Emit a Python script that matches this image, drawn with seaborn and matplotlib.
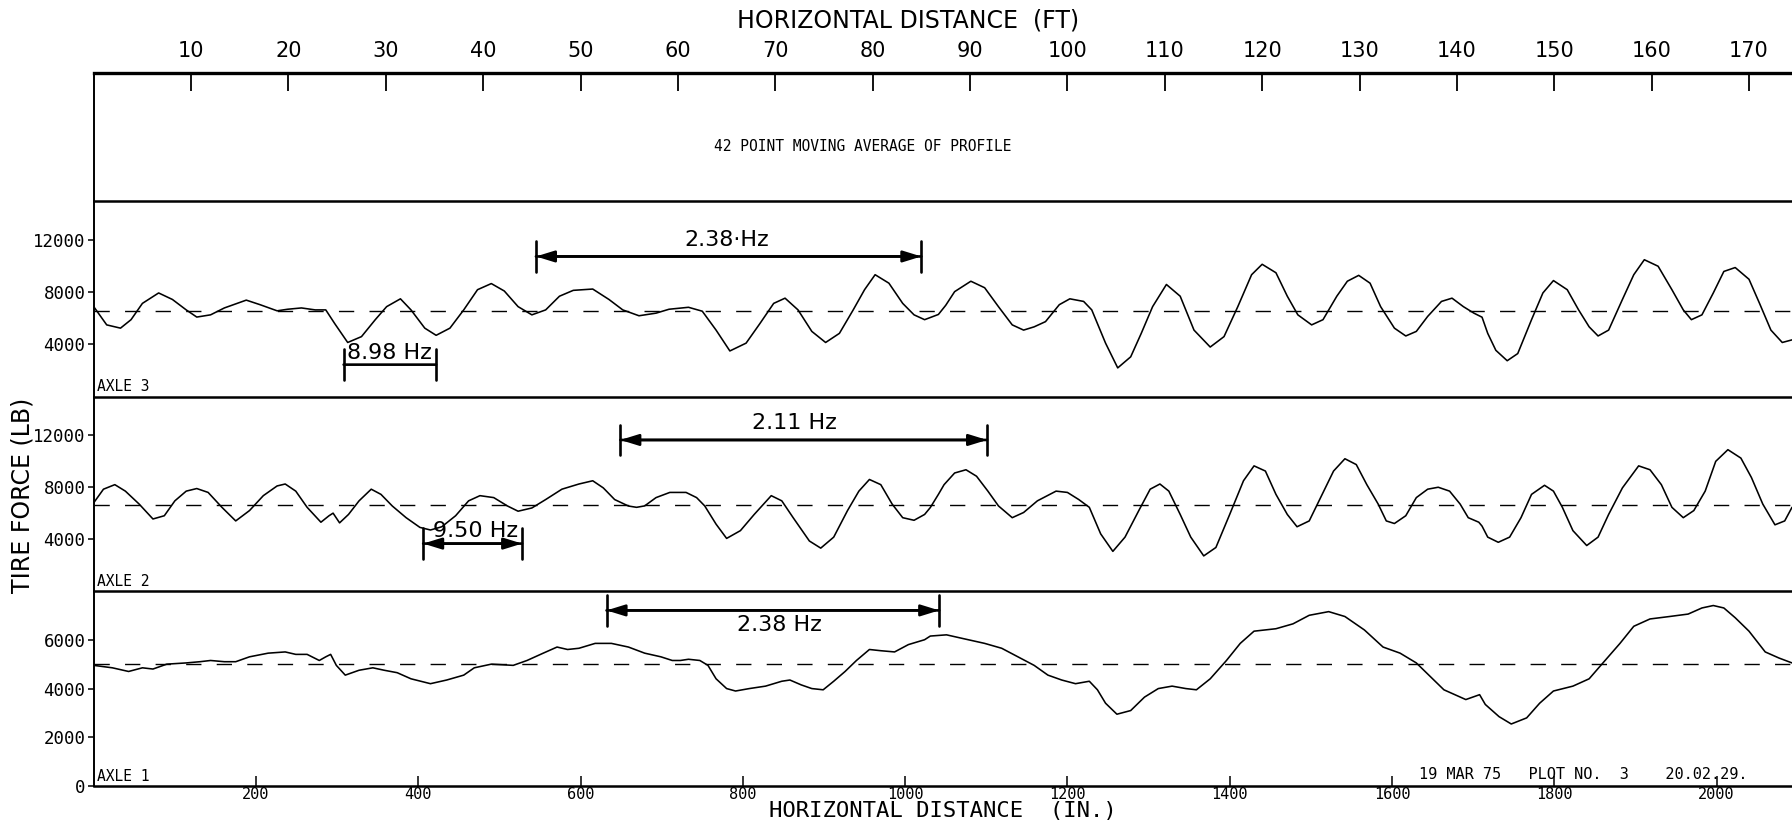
import numpy as np
import pandas as pd
import matplotlib
matplotlib.use("Agg")
import matplotlib.pyplot as plt
import matplotlib.transforms as mtransforms
import seaborn as sns

# ---------------------------------------------------------------- data
# horizontal distance in inches, tire force in lb
axle3_in = [0, 8, 16, 33, 46, 60, 80, 97, 114, 127, 144, 161, 188, 205, 226, 239, 256, 273, 286,
            297, 313, 330, 347, 361, 378, 391, 408, 422, 439, 456, 473, 490, 506, 523, 540, 557,
            574, 591, 615, 635, 652, 672, 693, 709, 733, 750, 767, 784, 804, 821, 838, 852, 868,
            885, 902, 919, 936, 950, 963, 980, 997, 1011, 1024, 1041, 1050, 1061, 1081, 1098,
            1115, 1132, 1146, 1159, 1173, 1190, 1203, 1220, 1230, 1247, 1262, 1278, 1291, 1305,
            1322, 1339, 1356, 1376, 1393, 1410, 1427, 1440, 1457, 1471, 1484, 1501, 1515, 1532,
            1545, 1559, 1573, 1586, 1603, 1617, 1630, 1644, 1661, 1674, 1688, 1701, 1711, 1718,
            1728, 1742, 1755, 1772, 1786, 1799, 1816, 1830, 1843, 1854, 1867, 1884, 1898, 1911,
            1928, 1945, 1959, 1969, 1982, 1996, 2009, 2023, 2040, 2053, 2067, 2081, 2093]
axle3_lb = [6900, 6200, 5500, 5250, 5900, 7150, 7950, 7450, 6650, 6100, 6270, 6800, 7400, 7050,
            6580, 6700, 6800, 6650, 6650, 5600, 4150, 4600, 5900, 6900, 7500, 6650, 5250, 4700,
            5250, 6650, 8200, 8670, 8100, 6900, 6270, 6650, 7700, 8150, 8250, 7450, 6650, 6200,
            6400, 6700, 6850, 6550, 5100, 3500, 4100, 5600, 7150, 7550, 6650, 5000, 4150, 4850,
            6650, 8200, 9350, 8700, 7150, 6270, 5900, 6300, 7000, 8050, 8850, 8350, 6900, 5500,
            5100, 5350, 5750, 7050, 7500, 7300, 6650, 4100, 2200, 3050, 4850, 6900, 8600, 7700,
            5100, 3800, 4600, 6900, 9350, 10150, 9500, 7700, 6270, 5500, 5900, 7700, 8850, 9300,
            8700, 6900, 5250, 4650, 5000, 6150, 7300, 7550, 6900, 6400, 6090, 4850, 3550, 2750,
            3300, 5900, 7950, 8900, 8200, 6650, 5350, 4650, 5100, 7450, 9350, 10500, 10000, 8200,
            6650, 5900, 6270, 7950, 9600, 9900, 9000, 7150, 5100, 4150, 4350]

axle2_in = [0, 12, 26, 39, 56, 73, 87, 100, 114, 127, 141, 158, 175, 192, 209, 226, 236, 249, 263,
            280, 290, 295, 303, 314, 327, 342, 354, 368, 385, 402, 415, 429, 446, 462, 476, 493,
            510, 523, 540, 557, 577, 598, 615, 628, 642, 659, 669, 679, 693, 710, 730, 743, 753,
            767, 780, 797, 814, 835, 848, 862, 882, 896, 912, 929, 943, 956, 970, 984, 997, 1011,
            1024, 1031, 1041, 1048, 1061, 1075, 1088, 1102, 1115, 1132, 1146, 1163, 1186, 1200,
            1214, 1227, 1241, 1256, 1271, 1288, 1302, 1314, 1325, 1339, 1352, 1368, 1383, 1400,
            1417, 1430, 1444, 1457, 1471, 1483, 1498, 1512, 1528, 1542, 1556, 1569, 1583, 1593,
            1603, 1617, 1630, 1644, 1657, 1671, 1684, 1694, 1707, 1711, 1718, 1731, 1745, 1759,
            1772, 1788, 1799, 1810, 1823, 1840, 1854, 1867, 1884, 1904, 1918, 1932, 1945, 1959,
            1972, 1986, 1999, 2014, 2030, 2043, 2057, 2072, 2084, 2093]
axle2_lb = [6800, 7850, 8200, 7700, 6700, 5550, 5800, 6950, 7700, 7900, 7600, 6450, 5400, 6200,
            7350, 8100, 8250, 7700, 6450, 5300, 5800, 6000, 5250, 5900, 6950, 7850, 7450, 6550,
            5650, 4900, 4700, 4950, 5800, 6950, 7350, 7200, 6550, 6150, 6400, 7050, 7850, 8250,
            8500, 7950, 7050, 6550, 6450, 6560, 7200, 7600, 7600, 7200, 6560, 5150, 4050, 4650,
            5900, 7350, 6950, 5650, 3850, 3300, 4150, 6200, 7700, 8600, 8200, 6700, 5650, 5450,
            5900, 6430, 7450, 8200, 9100, 9350, 8850, 7700, 6560, 5650, 6050, 6950, 7700, 7600,
            7050, 6450, 4400, 3050, 4150, 6200, 7850, 8250, 7700, 5900, 4150, 2700, 3350, 5900,
            8500, 9650, 9250, 7450, 5900, 4950, 5400, 7200, 9250, 10200, 9750, 8200, 6700, 5400,
            5200, 5800, 7200, 7850, 8000, 7700, 6700, 5650, 5300, 5000, 4150, 3750, 4150, 5650,
            7450, 8150, 7700, 6450, 4650, 3500, 4150, 5900, 7950, 9650, 9350, 8200, 6450, 5650,
            6200, 7700, 10000, 10900, 10250, 8750, 6700, 5100, 5400, 6450]

axle1_in = [0, 23, 43, 60, 73, 90, 114, 131, 144, 161, 175, 192, 215, 236, 249, 263, 278, 286,
            292, 299, 310, 327, 344, 358, 374, 391, 415, 435, 456, 469, 490, 517, 534, 554, 571,
            584, 598, 618, 638, 659, 679, 699, 713, 723, 733, 747, 757, 767, 780, 791, 808, 828,
            848, 858, 872, 885, 899, 912, 926, 940, 956, 970, 987, 1004, 1024, 1031, 1051, 1071,
            1098, 1119, 1139, 1159, 1176, 1193, 1210, 1227, 1237, 1247, 1261, 1278, 1295, 1312,
            1329, 1346, 1359, 1376, 1396, 1413, 1430, 1457, 1478, 1498, 1522, 1542, 1566, 1589,
            1610, 1630, 1647, 1664, 1691, 1708, 1715, 1732, 1747, 1766, 1782, 1799, 1823, 1843,
            1860, 1881, 1898, 1918, 1942, 1965, 1982, 1996, 2009, 2023, 2040, 2060, 2077, 2093]
axle1_lb = [4950, 4850, 4700, 4850, 4800, 5000, 5050, 5100, 5150, 5100, 5100, 5300, 5450, 5500,
            5400, 5400, 5150, 5300, 5400, 4950, 4550, 4750, 4850, 4750, 4650, 4400, 4200, 4350,
            4550, 4850, 5000, 4950, 5150, 5450, 5700, 5600, 5650, 5850, 5850, 5700, 5450, 5300,
            5150, 5150, 5200, 5150, 4950, 4400, 4000, 3900, 4000, 4100, 4300, 4350, 4150, 4000,
            3950, 4300, 4700, 5150, 5600, 5550, 5500, 5800, 6000, 6150, 6200, 6050, 5850, 5650,
            5300, 4950, 4550, 4350, 4200, 4300, 3950, 3400, 2950, 3100, 3650, 4000, 4100, 4000,
            3950, 4400, 5150, 5850, 6350, 6450, 6650, 7000, 7150, 6950, 6400, 5700, 5450, 5050,
            4500, 3950, 3550, 3750, 3350, 2850, 2550, 2800, 3400, 3900, 4100, 4400, 5050, 5850,
            6550, 6850, 6950, 7050, 7300, 7400, 7300, 6900, 6350, 5500, 5250, 5050]

# static load of each axle (dashed reference lines)
axle3_static = 6600
axle2_static = 6600
axle1_static = 5000

# frequency markers: (label, start in, end in, level lb, label x, label lb, arrowheads)
axle3_marks = [("2.38·Hz", 545, 1020, 10750, 780, 12000, True),
               ("8.98 Hz", 308, 422, 2450, 365, 3350, False)]
axle2_marks = [("2.11 Hz", 649, 1101, 11650, 863, 12950, True),
               ("9.50 Hz", 406, 528, 3650, 470, 4650, True)]
axle1_marks = [("2.38 Hz", 632, 1042, 7200, 845, 6600, True)]

ft_ticks = [10, 20, 30, 40, 50, 60, 70, 80, 90, 100, 110, 120, 130, 140, 150, 160, 170]
in_ticks = [200, 400, 600, 800, 1000, 1200, 1400, 1600, 1800, 2000]
force_ticks_hi = [4000, 8000, 12000]
force_ticks_lo = [0, 2000, 4000, 6000]

x_max = 2093

# ---------------------------------------------------------------- style
sns.set_theme(style="white", rc={
    "axes.edgecolor": "black", "xtick.color": "black", "ytick.color": "black",
    "text.color": "black", "axes.labelcolor": "black", "axes.linewidth": 1.5,
})
plt.rcParams["font.family"] = ["DejaVu Sans"]
MONO = "DejaVu Sans Mono"

fig = plt.figure(figsize=(17.92, 8.21), dpi=100)
gs = fig.add_gridspec(4, 1, height_ratios=[128, 195.5, 194.3, 195.4], hspace=0,
                      left=0.0523, right=1.0, top=0.911, bottom=0.0423)
ax_prof = fig.add_subplot(gs[0])
ax3 = fig.add_subplot(gs[1])
ax2 = fig.add_subplot(gs[2])
ax1 = fig.add_subplot(gs[3])

for ax in (ax_prof, ax3, ax2, ax1):
    ax.set_xlim(0, x_max)
    ax.spines["right"].set_visible(False)
    ax.spines["bottom"].set_visible(False)
    ax.spines["left"].set_linewidth(1.4)
    ax.spines["top"].set_linewidth(1.8)
    ax.set_facecolor("white")
ax1.spines["bottom"].set_visible(True)
ax1.spines["bottom"].set_linewidth(1.8)
ax_prof.spines["top"].set_linewidth(2.4)

# ---------------------------------------------------------------- profile panel
ax_prof.set_ylim(0, 1)
ax_prof.set_yticks([])
ax_prof.xaxis.set_ticks_position("top")
ax_prof.set_xticks([f * 12 for f in ft_ticks])
ax_prof.set_xticklabels([str(f) for f in ft_ticks], fontsize=15)
ax_prof.tick_params(axis="x", direction="in", length=13, width=1.3, pad=9,
                    top=True, bottom=False, labeltop=True, labelbottom=False)
ax_prof.text(948, 0.43, "42 POINT MOVING AVERAGE OF PROFILE", family=MONO, fontsize=10.5,
             ha="center", va="center",
             transform=mtransforms.blended_transform_factory(ax_prof.transData, ax_prof.transAxes))
fig.text(0.507, 0.975, "HORIZONTAL DISTANCE  (FT)", ha="center", va="center", fontsize=17)


# ---------------------------------------------------------------- axle panels
def draw_axle(ax, xs, lbs, static, ylim, yticks, name, marks):
    df = pd.DataFrame({"distance": xs, "force": lbs})
    sns.lineplot(data=df, x="distance", y="force", ax=ax, color="black", lw=1.15,
                 estimator=None, sort=False)
    ax.axhline(static, color="black", lw=1.0, dashes=(11, 11))
    ax.set_ylim(*ylim)
    ax.set_xlim(0, x_max)
    ax.set_yticks(yticks)
    ax.set_yticklabels([str(v) for v in yticks], family=MONO, fontsize=12.5)
    ax.tick_params(axis="y", direction="out", length=4, width=1.1, pad=2, left=True)
    ax.set_xlabel("")
    ax.set_ylabel("")
    ax.text(0.002, 0.012, name, transform=ax.transAxes, family=MONO, fontsize=10.5,
            ha="left", va="bottom")
    for label, x0, x1, level, tx, ty, heads in marks:
        ax.annotate("", xy=(x1, level), xytext=(x0, level),
                    arrowprops=dict(arrowstyle="|-|,widthA=0.55,widthB=0.55", color="black",
                                    lw=1.9, shrinkA=0, shrinkB=0, mutation_scale=20))
        if heads:
            ax.annotate("", xy=(x1, level), xytext=(x0, level),
                        arrowprops=dict(arrowstyle="<|-|>,head_length=0.55,head_width=0.17",
                                        color="black", lw=1.9, shrinkA=0, shrinkB=0,
                                        mutation_scale=20))
        ax.text(tx, ty, label, ha="center", va="center", fontsize=16)


draw_axle(ax3, axle3_in, axle3_lb, axle3_static, (0, 15000), force_ticks_hi, "AXLE 3", axle3_marks)
draw_axle(ax2, axle2_in, axle2_lb, axle2_static, (0, 15000), force_ticks_hi, "AXLE 2", axle2_marks)
draw_axle(ax1, axle1_in, axle1_lb, axle1_static, (0, 8000), force_ticks_lo, "AXLE 1", axle1_marks)

for ax in (ax3, ax2):
    ax.tick_params(axis="x", bottom=False, top=False, labelbottom=False, labeltop=False)

ax1.set_xticks(in_ticks)
ax1.set_xticklabels([str(v) for v in in_ticks], family=MONO, fontsize=11)
ax1.tick_params(axis="x", direction="in", length=7, width=1.1, pad=0.5, bottom=True, top=False,
                labelbottom=True)
ax1.text(1633, 0.058, "19 MAR 75   PLOT NO.  3    20.02.29.", family=MONO, fontsize=11,
         ha="left", va="center",
         transform=mtransforms.blended_transform_factory(ax1.transData, ax1.transAxes))

fig.text(0.0128, 0.397, "TIRE FORCE (LB)", rotation=90, ha="center", va="center", fontsize=17)
fig.text(0.526, 0.0005, "HORIZONTAL DISTANCE  (IN.)", family=MONO, fontsize=16,
         ha="center", va="bottom")

fig.savefig("out.png", dpi=100, facecolor="white")
